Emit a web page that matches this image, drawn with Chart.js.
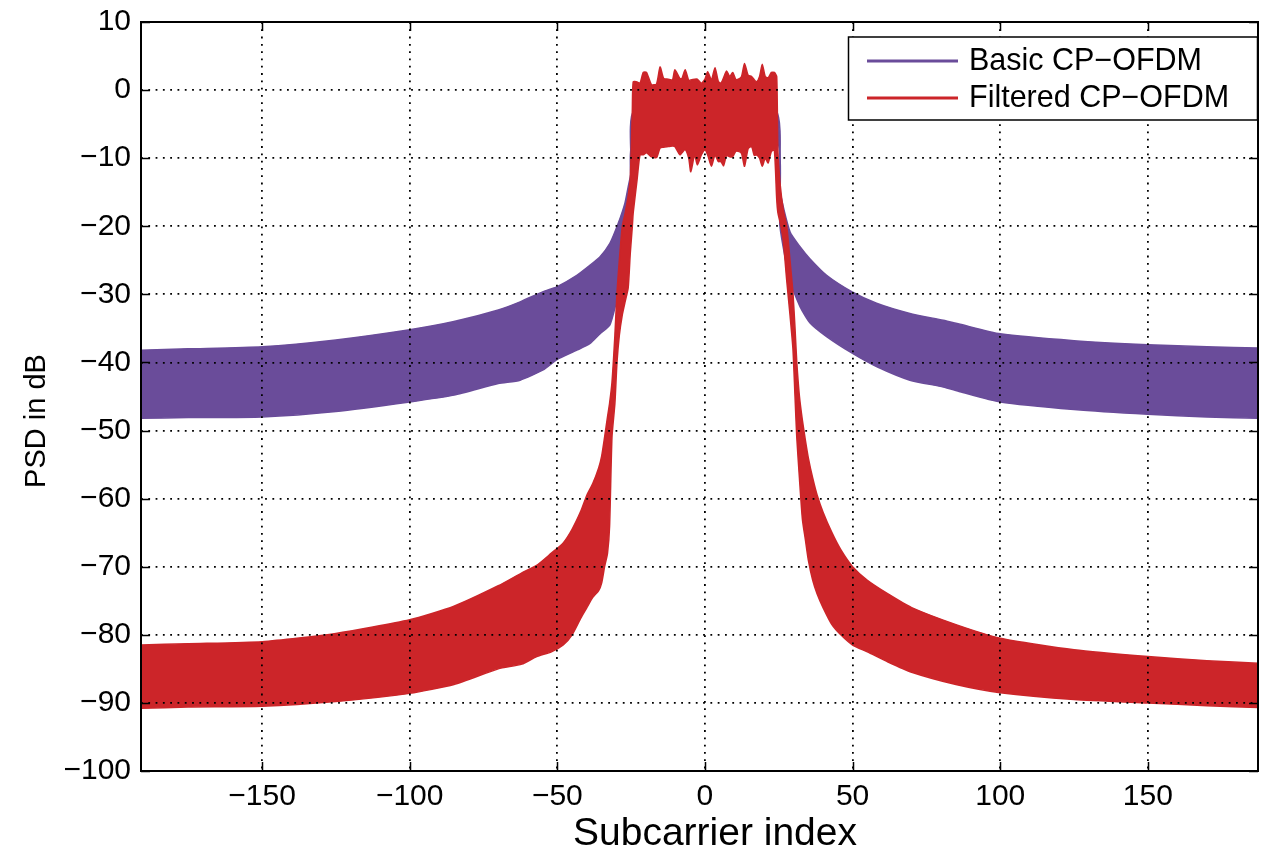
<!DOCTYPE html>
<html>
<head>
<meta charset="utf-8">
<script src="https://cdn.jsdelivr.net/npm/chart.js@4.4.1/dist/chart.umd.min.js"></script>
<style>
html,body{margin:0;padding:0;background:#fff;}
#wrap{width:1261px;height:852px;}
</style>
</head>
<body>
<div id="wrap"><canvas id="c" width="1261" height="852"></canvas></div>
<script>
// ---- tick labels / categories ----
const xTicks = [-150, -100, -50, 0, 50, 100, 150];
const yTicks = [10, 0, -10, -20, -30, -40, -50, -60, -70, -80, -90, -100];
const seriesNames = ['Basic CP\u2212OFDM', 'Filtered CP\u2212OFDM'];
const xTitle = 'Subcarrier index';
const yTitle = 'PSD in dB';

// ---- Basic CP-OFDM: envelope of PSD (upper / lower) ----
const basicX = [-191, -175, -150, -125, -100, -85, -70, -62.6, -54.8, -50.2, -43.4, -38.9, -35.6, -32.2, -29.4, -27.1, -26, -25, -24.0, 0, 24.0, 25.4, 28.8, 32.2, 35.6, 41.2, 49.7, 58.1, 69.4, 80.7, 86.4, 100, 125, 150, 170, 188];
const basicUpper = [-38.2, -38.0, -37.7, -36.7, -35.2, -34.0, -32.3, -31.1, -29.6, -28.9, -27.2, -25.7, -24.5, -22.5, -19.6, -16.6, -14.2, -12, -3, -3, -3, -14.7, -20.8, -23, -24.8, -27.2, -29.6, -31.3, -32.8, -33.8, -34.4, -35.8, -36.8, -37.4, -37.7, -37.9];
const basicLower = [-48.2, -48.1, -48.0, -47.2, -45.8, -44.8, -43.1, -42.6, -41.1, -39.6, -38.2, -37.2, -35.8, -34.5, -30, -25, -20, -16, -7, -7, -7, -20, -28, -31.8, -34.2, -36.2, -38.6, -40.6, -42.6, -43.6, -44.3, -45.8, -46.9, -47.6, -48.0, -48.2];

// ---- Filtered CP-OFDM: envelope of PSD (upper / lower) ----
const filteredX = [-191, -175, -150, -125, -100, -85, -70, -62, -57, -52, -48, -45, -42, -40, -38, -36, -35, -34, -33, -32.3, -31.5, -30.5, -29.8, -29, -28, -27, -26, -25.3, -24.6,
  -24.3, -23.0, -22.0, -20.9, -19.8, -18.1, -16.4, -15.2, -14.0, -12.5, -11.0, -10.2, -8.5, -7.8, -6.7, -5.5, -4.8, -3.5, -2.6, -1.2, 0, 0.9, 2.2, 3.4, 4.5, 5.4, 6.3, 7.3, 8.4, 9.4, 10.4, 11.3, 12.4, 13.4, 14.6, 15.8, 16.7, 17.5, 18.5, 19.4, 20.4, 21.4, 22.5, 23.5, 24.3,
  24.7, 25.5, 26.5, 27.7, 28.8, 29.8, 30.5, 31.1, 32.0, 33.0, 34, 35, 36.5, 38, 40, 43, 46, 50, 55, 62, 70, 85, 100, 125, 150, 170, 188];
const filteredUpper = [-81.5, -81.3, -81.0, -79.8, -77.8, -75.8, -72.8, -70.9, -69.8, -68.0, -66.5, -64.5, -61.8, -59.5, -57.8, -55.5, -53.8, -51, -48, -46, -43, -36, -29.8, -25, -20, -18, -15.5, -13, -3,
  1.2, 1.2, 1.0, 2.6, 2.6, 0.8, 0.9, 3.4, 1.7, 1.6, 1.5, 3.0, 1.7, 1.7, 3.0, 1.4, 1.5, 1.6, 1.6, 1.0, 1.6, 2.7, 1.5, 3.3, 1.3, 1.0, 1.8, 2.8, 2.0, 2.6, 1.6, 1.6, 2.0, 3.9, 2.2, 2.0, 1.5, 1.2, 2.0, 3.8, 2.0, 1.8, 2.6, 2.6, 2.0,
  -8.8, -14, -17.5, -20, -25, -29.8, -35, -40, -45, -48.5, -51.4, -54, -57, -59.5, -62, -65, -67.5, -70, -72, -74, -76, -78.5, -80.5, -82.2, -83.2, -83.8, -84.2];
const filteredLower = [-90.8, -90.6, -90.5, -89.8, -88.6, -87.3, -85.0, -84.3, -83.2, -82.5, -81.5, -80, -77.5, -76, -74.5, -73.5, -72.4, -70, -68, -64, -51, -46, -40, -36, -33, -31, -29, -24, -20,
  -18, -13.2, -9.5, -9.5, -9.2, -9.8, -9.9, -8.5, -8.4, -8.3, -8.2, -8.3, -9.5, -9.2, -8.7, -10, -12.0, -9.5, -11.0, -9.5, -8.8, -9.5, -11.2, -9.5, -10.5, -10.5, -11.1, -9.6, -9.8, -9.8, -9.0, -9.0, -9.3, -11.2, -8.6, -8.3, -9.6, -9.5, -10, -11.2, -10, -10.7, -9, -8.8, -16,
  -18, -19.5, -22, -28, -33, -38, -45, -51, -57, -63, -66, -69, -72, -74, -76, -78.5, -80, -81.5, -82.5, -84, -85.5, -87.3, -88.5, -89.5, -90, -90.4, -90.7];

const basicColor = '#6a4c9a';
const filteredColor = '#cc2529';
const FONT = '"Liberation Sans", Arial, sans-serif';

const toPts = (xs, ys) => xs.map((x, i) => ({x: x, y: ys[i]}));
const minus = v => String(v).replace('-', '\u2212');

function edge(label, data, color, fill, order) {
  return {
    label: label, data: data, showLine: true, fill: fill,
    borderColor: color, backgroundColor: color,
    borderWidth: 1.5, pointRadius: 0, tension: 0.2, order: order
  };
}

const framePlugin = {
  id: 'frame',
  afterDraw(chart) {
    const ctx = chart.ctx;
    const a = chart.chartArea;
    const xs = chart.scales.x, ys = chart.scales.y;
    ctx.save();
    // inward ticks
    ctx.strokeStyle = '#000';
    ctx.lineWidth = 1.5;
    ctx.beginPath();
    xTicks.forEach(v => {
      const p = Math.round(xs.getPixelForValue(v)) + 0.5;
      ctx.moveTo(p, a.bottom); ctx.lineTo(p, a.bottom - 9);
      ctx.moveTo(p, a.top); ctx.lineTo(p, a.top + 9);
    });
    yTicks.forEach(v => {
      const p = Math.round(ys.getPixelForValue(v)) + 0.5;
      ctx.moveTo(a.left, p); ctx.lineTo(a.left + 9, p);
      ctx.moveTo(a.right, p); ctx.lineTo(a.right - 9, p);
    });
    ctx.stroke();
    // box
    ctx.lineWidth = 2;
    ctx.strokeRect(a.left, a.top, a.right - a.left, a.bottom - a.top);

    // legend
    const lx = 848.5, ly = 37, lw = 409, lh = 83;
    ctx.fillStyle = '#fff';
    ctx.fillRect(lx, ly, lw, lh);
    ctx.lineWidth = 1.5;
    ctx.strokeStyle = '#000';
    ctx.strokeRect(lx, ly, lw, lh);
    const colors = [basicColor, filteredColor];
    const rows = [61, 98];
    ctx.font = '30.5px ' + FONT;
    ctx.textBaseline = 'middle';
    ctx.textAlign = 'left';
    seriesNames.forEach((n, i) => {
      ctx.strokeStyle = colors[i];
      ctx.lineWidth = 3;
      ctx.beginPath();
      ctx.moveTo(867, rows[i]); ctx.lineTo(958, rows[i]);
      ctx.stroke();
      ctx.fillStyle = '#000';
      ctx.fillText(n, 969, rows[i] + 1);
    });

    // axis titles
    ctx.fillStyle = '#000';
    ctx.font = '39px ' + FONT;
    ctx.textAlign = 'center';
    ctx.textBaseline = 'alphabetic';
    ctx.fillText(xTitle, 715, 845);
    ctx.save();
    ctx.translate(45, 421);
    ctx.rotate(-Math.PI / 2);
    ctx.font = '29px ' + FONT;
    ctx.fillText(yTitle, 0, 0);
    ctx.restore();
    ctx.restore();
  }
};

new Chart(document.getElementById('c'), {
  type: 'scatter',
  data: {
    datasets: [
      edge(seriesNames[1], toPts(filteredX, filteredUpper), filteredColor, '+1', 0),
      edge(seriesNames[1], toPts(filteredX, filteredLower), filteredColor, false, 0),
      edge(seriesNames[0], toPts(basicX, basicUpper), basicColor, '+1', 1),
      edge(seriesNames[0], toPts(basicX, basicLower), basicColor, false, 1)
    ]
  },
  options: {
    responsive: false,
    devicePixelRatio: 1,
    animation: false,
    events: [],
    layout: {padding: {left: 0, right: 3, top: 22, bottom: 0}},
    plugins: {legend: {display: false}, tooltip: {enabled: false}},
    scales: {
      x: {
        type: 'linear', min: -191, max: 187.3,
        afterBuildTicks: s => { s.ticks = xTicks.map(v => ({value: v})); },
        afterFit: s => { s.height = 81; s.paddingLeft = 0; s.paddingRight = 0; },
        ticks: {font: {family: FONT, size: 30}, color: '#000', padding: 8, callback: minus, maxRotation: 0, autoSkip: false},
        grid: {color: '#000', lineWidth: 1.8, drawTicks: false, z: 1},
        border: {display: false, dash: [1.8, 5.5]}
      },
      y: {
        type: 'linear', min: -100, max: 10,
        afterBuildTicks: s => { s.ticks = yTicks.map(v => ({value: v})); },
        afterFit: s => { s.width = 141; s.paddingTop = 0; s.paddingBottom = 0; },
        ticks: {font: {family: FONT, size: 30}, color: '#000', padding: 10, callback: minus, autoSkip: false},
        grid: {color: '#000', lineWidth: 1.8, drawTicks: false, z: 1},
        border: {display: false, dash: [1.8, 5.5]}
      }
    }
  },
  plugins: [framePlugin]
});
</script>
</body>
</html>
